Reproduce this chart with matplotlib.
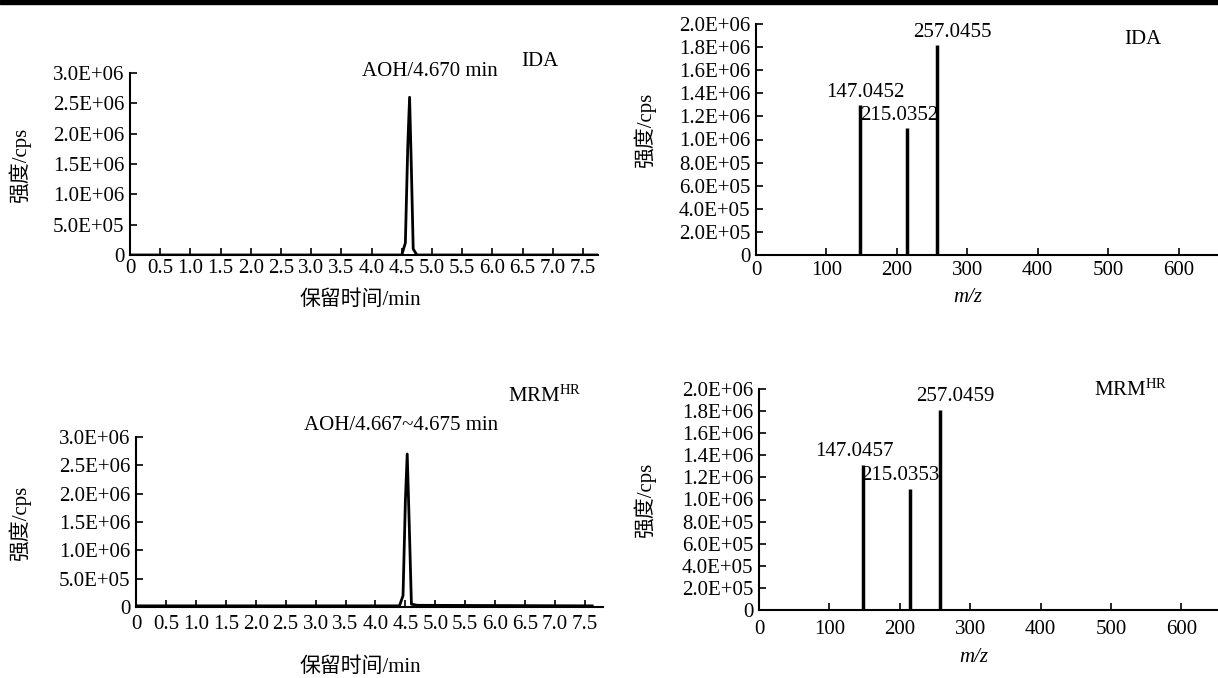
import matplotlib
matplotlib.use("Agg")
import matplotlib.pyplot as plt
from matplotlib.patches import Rectangle

plt.rcParams['font.family'] = ['Liberation Serif', 'Noto Sans CJK SC']
plt.rcParams['mathtext.fontset'] = 'custom'
plt.rcParams['mathtext.rm'] = 'Liberation Serif'
plt.rcParams['mathtext.it'] = 'Liberation Serif:italic'

# chromatograms (retention time, min / intensity, cps)
ida_time = [0.0, 4.50, 4.56, 4.60, 4.63, 4.66, 4.69, 4.75, 7.75]
ida_intensity = [0, 0, 0.2e6, 1.8e6, 2.6e6, 1.4e6, 0.1e6, 0, 0]
mrm_time = [0.0, 4.40, 4.46, 4.50, 4.53, 4.56, 4.60, 4.70, 7.62]
mrm_intensity = [0.02e6, 0.02e6, 0.2e6, 1.9e6, 2.7e6, 1.6e6, 0.05e6, 0.03e6, 0.02e6]

# product ion spectra
ida_mz = [147.0452, 215.0352, 257.0455]
ida_abund = [1.30e6, 1.10e6, 1.82e6]
mrm_mz = [147.0457, 215.0353, 257.0459]
mrm_abund = [1.31e6, 1.095e6, 1.81e6]

rt_ticks = [0, 0.5, 1.0, 1.5, 2.0, 2.5, 3.0, 3.5, 4.0, 4.5, 5.0, 5.5, 6.0, 6.5, 7.0, 7.5]
rt_labels = ['0'] + [f"{t:.1f}" for t in rt_ticks[1:]]
chrom_yticks = [0, 5e5, 1e6, 1.5e6, 2e6, 2.5e6, 3e6]
spec_yticks = [0, 2e5, 4e5, 6e5, 8e5, 1e6, 1.2e6, 1.4e6, 1.6e6, 1.8e6, 2e6]
mz_ticks = [0, 100, 200, 300, 400, 500, 600]

W, H = 1218, 678
FS = 15


def sci(v):
    return '0' if v == 0 else f"{v:.1E}"


def frac(x, y):
    return x / W, 1 - y / H


def style_axes(ax):
    ax.spines['top'].set_visible(False)
    ax.spines['right'].set_visible(False)
    for s in ('left', 'bottom'):
        ax.spines[s].set_linewidth(1.5)
    ax.tick_params(direction='in', length=5, width=1.2, labelsize=FS, pad=4)


fig = plt.figure(figsize=(W / 100, H / 100), dpi=100)
fig.add_artist(Rectangle((0, 1 - 4 / H), 1, 4 / H, transform=fig.transFigure,
                         color='black', clip_on=False))

# --- top left: IDA chromatogram
ax1 = fig.add_axes([130 / W, 1 - 255 / H, 468 / W, 182 / H])
ax1.plot(ida_time, ida_intensity, color='black', lw=2)
ax1.set_xlim(0, 7.75)
ax1.set_ylim(0, 3e6)
ax1.set_xticks(rt_ticks, rt_labels)
ax1.set_yticks(chrom_yticks, [sci(v) for v in chrom_yticks])
style_axes(ax1)
ax1.tick_params(axis='x', pad=3)
fig.text(*frac(430, 71), 'AOH/4.670 min', fontsize=FS, ha='center', va='center')
fig.text(*frac(540, 62), 'IDA', fontsize=FS, ha='center', va='center')
fig.text(*frac(360, 300), '保留时间/min', fontsize=FS, ha='center', va='center')
fig.text(*frac(20, 165), '强度/cps', fontsize=FS, ha='center', va='center', rotation=90)

# --- top right: IDA spectrum
ax2 = fig.add_axes([756 / W, 1 - 255 / H, 1 - 756 / W, 231 / H])
ax2.vlines(ida_mz, 0, ida_abund, color='black', lw=2.5)
ax2.set_xlim(0, 656)
ax2.set_ylim(0, 2e6)
ax2.set_xticks(mz_ticks)
ax2.set_yticks(spec_yticks, [sci(v) for v in spec_yticks])
style_axes(ax2)
for mz, ab, dx in zip(ida_mz, ida_abund, [4, -6, 11]):
    ax2.annotate(f"{mz:.4f}", (mz, ab), xytext=(dx, 2), textcoords='offset points',
                 ha='center', va='bottom', fontsize=FS)
fig.text(*frac(1143, 40), 'IDA', fontsize=FS, ha='center', va='center')
fig.text(*frac(968, 298), 'm/z', fontsize=FS, ha='center', va='center', style='italic')
fig.text(*frac(645, 130), '强度/cps', fontsize=FS, ha='center', va='center', rotation=90)

# --- bottom left: MRM-HR chromatogram
ax3 = fig.add_axes([136 / W, 1 - 607 / H, 467 / W, 170 / H])
ax3.plot(mrm_time, mrm_intensity, color='black', lw=2)
ax3.set_xlim(0, 7.8)
ax3.set_ylim(0, 3e6)
ax3.set_xticks(rt_ticks, rt_labels)
ax3.set_yticks(chrom_yticks, [sci(v) for v in chrom_yticks])
style_axes(ax3)
ax3.tick_params(axis='x', pad=6)
fig.text(*frac(401, 425), 'AOH/4.667~4.675 min', fontsize=FS, ha='center', va='center')
fig.text(*frac(545, 396), r'MRM$^{\mathrm{HR}}$', fontsize=FS, ha='center', va='center')
fig.text(*frac(360, 667), '保留时间/min', fontsize=FS, ha='center', va='center')
fig.text(*frac(20, 523), '强度/cps', fontsize=FS, ha='center', va='center', rotation=90)

# --- bottom right: MRM-HR spectrum
ax4 = fig.add_axes([759 / W, 1 - 610 / H, 1 - 759 / W, 221 / H])
ax4.vlines(mrm_mz, 0, mrm_abund, color='black', lw=2.5)
ax4.set_xlim(0, 652)
ax4.set_ylim(0, 2e6)
ax4.set_xticks(mz_ticks)
ax4.set_yticks(spec_yticks, [sci(v) for v in spec_yticks])
style_axes(ax4)
ax4.tick_params(axis='x', pad=7)
for mz, ab, dx in zip(mrm_mz, mrm_abund, [-6, -7, 11]):
    ax4.annotate(f"{mz:.4f}", (mz, ab), xytext=(dx, 3), textcoords='offset points',
                 ha='center', va='bottom', fontsize=FS)
fig.text(*frac(1131, 390), r'MRM$^{\mathrm{HR}}$', fontsize=FS, ha='center', va='center')
fig.text(*frac(974, 658), 'm/z', fontsize=FS, ha='center', va='center', style='italic')
fig.text(*frac(645, 500), '强度/cps', fontsize=FS, ha='center', va='center', rotation=90)

fig.savefig('out.png', dpi=100)
